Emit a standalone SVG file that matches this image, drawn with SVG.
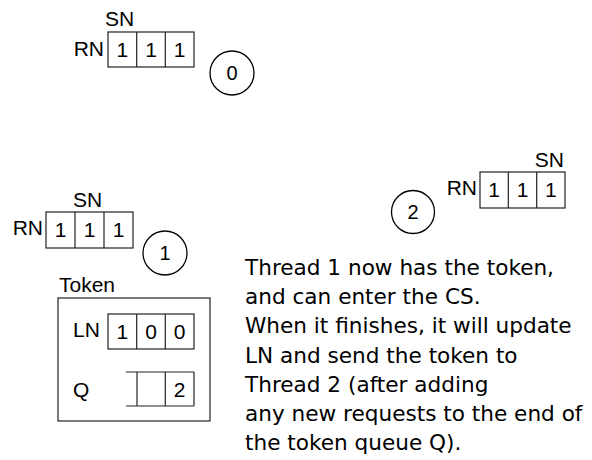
<svg xmlns="http://www.w3.org/2000/svg" width="592" height="460" viewBox="0 0 592 460">
<style>
.lbl{font-family:"Liberation Sans",Arial,sans-serif;font-size:21px;fill:#000}
.dig{font-family:"Liberation Sans",Arial,sans-serif;font-size:21px;fill:#000;text-anchor:middle}
.par{font-family:"DejaVu Sans",Verdana,sans-serif;font-size:21.6px;fill:#000}
.box{fill:none;stroke:#222;stroke-width:1.2}
.circ{fill:#fff;stroke:#000;stroke-width:1.3}
</style>
<rect width="592" height="460" fill="#fff"/>
<g id="thread0">
  <text class="lbl" x="105" y="26">SN</text>
  <text class="lbl" x="104" y="56" text-anchor="end">RN</text>
  <rect class="box" x="108" y="32" width="86" height="35"/>
  <line class="box" x1="136.7" y1="32" x2="136.7" y2="67"/>
  <line class="box" x1="165.3" y1="32" x2="165.3" y2="67"/>
  <text class="dig" x="122.3" y="57">1</text>
  <text class="dig" x="151" y="57">1</text>
  <text class="dig" x="179.7" y="57">1</text>
  <circle class="circ" cx="232" cy="73" r="22"/>
  <text class="dig" x="232" y="80" style="font-size:20px">0</text>
</g>
<g id="thread1">
  <text class="lbl" x="73" y="207">SN</text>
  <text class="lbl" x="43" y="235" text-anchor="end">RN</text>
  <rect class="box" x="46" y="212" width="87" height="36"/>
  <line class="box" x1="75" y1="212" x2="75" y2="248"/>
  <line class="box" x1="104" y1="212" x2="104" y2="248"/>
  <text class="dig" x="60.5" y="237">1</text>
  <text class="dig" x="89.5" y="237">1</text>
  <text class="dig" x="118.5" y="237">1</text>
  <circle class="circ" cx="165" cy="253" r="22"/>
  <text class="dig" x="165" y="260" style="font-size:20px">1</text>
</g>
<g id="thread2">
  <text class="lbl" x="564" y="167" text-anchor="end">SN</text>
  <text class="lbl" x="477" y="195" text-anchor="end">RN</text>
  <rect class="box" x="480" y="172" width="85" height="36"/>
  <line class="box" x1="508.3" y1="172" x2="508.3" y2="208"/>
  <line class="box" x1="536.7" y1="172" x2="536.7" y2="208"/>
  <text class="dig" x="494.2" y="197">1</text>
  <text class="dig" x="522.5" y="197">1</text>
  <text class="dig" x="550.8" y="197">1</text>
  <circle class="circ" cx="413" cy="212" r="21.5"/>
  <text class="dig" x="413" y="219" style="font-size:20px">2</text>
</g>
<g id="token">
  <text class="lbl" x="59" y="292">Token</text>
  <rect class="box" x="58" y="298" width="152" height="123"/>
  <text class="lbl" x="73" y="337">LN</text>
  <rect class="box" x="108" y="314" width="86" height="35"/>
  <line class="box" x1="136.7" y1="314" x2="136.7" y2="349"/>
  <line class="box" x1="165.3" y1="314" x2="165.3" y2="349"/>
  <text class="dig" x="122.3" y="339">1</text>
  <text class="dig" x="151" y="339">0</text>
  <text class="dig" x="179.7" y="339">0</text>
  <text class="lbl" x="73" y="397">Q</text>
  <line class="box" x1="126" y1="372" x2="194" y2="372"/>
  <line class="box" x1="126" y1="406" x2="194" y2="406"/>
  <line class="box" x1="137" y1="372" x2="137" y2="406"/>
  <line class="box" x1="165.3" y1="372" x2="165.3" y2="406"/>
  <line class="box" x1="194" y1="372" x2="194" y2="406"/>
  <text class="dig" x="179.7" y="397">2</text>
</g>
<g id="note">
  <text class="par" x="245" y="275">Thread 1 now has the token,</text>
  <text class="par" x="245" y="304.2">and can enter the CS.</text>
  <text class="par" x="245" y="333.4">When it finishes, it will update</text>
  <text class="par" x="245" y="362.6">LN and send the token to</text>
  <text class="par" x="245" y="391.8">Thread 2 (after adding</text>
  <text class="par" x="245" y="421">any new requests to the end of</text>
  <text class="par" x="245" y="450.2">the token queue Q).</text>
</g>
<g id="connectors"></g>
</svg>
